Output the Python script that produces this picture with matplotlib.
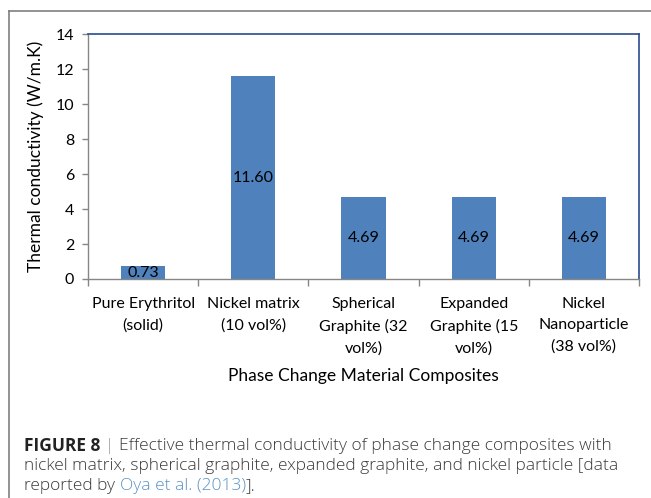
import numpy as np
import matplotlib
matplotlib.use("Agg")
import matplotlib.pyplot as plt
from matplotlib.lines import Line2D

categories = ["Pure Erythritol\n(solid)", "Nickel matrix\n(10 vol%)",
              "Spherical\nGraphite (32\nvol%)", "Expanded\nGraphite (15\nvol%)",
              "Nickel\nNanoparticle\n(38 vol%)"]
values = [0.73, 11.60, 4.69, 4.69, 4.69]
yticks = [0, 2, 4, 6, 8, 10, 12, 14]

BAR = "#4F81BD"
GRAY = "#868686"
NAVY = "#2B4C8C"
FONT = "Lato"

fig = plt.figure(figsize=(6.51, 4.98), dpi=100)

# outer frame (left + top lines)
fig.add_artist(Line2D([9/651, 9/651], [0, 1 - 11/498], transform=fig.transFigure,
                      color="#7f7f7f", lw=1.2))
fig.add_artist(Line2D([9/651, 1], [1 - 11/498, 1 - 11/498], transform=fig.transFigure,
                      color="#7f7f7f", lw=1.2))

ax = fig.add_axes([88/651, 1 - 279/498, (639 - 88)/651, (279 - 34)/498])
x = np.arange(len(categories))
ax.bar(x, values, width=0.4, color=BAR, zorder=2)
for i, v in enumerate(values):
    ax.text(i, v / 2, f"{v:.2f}", ha="center", va="center", fontsize=11.5,
            family=FONT, color="black", zorder=3)

ax.set_xlim(-0.5, len(categories) - 0.5)
ax.set_ylim(0, 14)
ax.set_yticks(yticks)
ax.set_yticklabels([str(t) for t in yticks], family=FONT, fontsize=11.5)
ax.set_xticks(np.arange(-0.5, len(categories), 1.0))
ax.set_xticklabels([])
ax.set_xticks(x, minor=True)
ax.set_xticklabels(categories, minor=True, family=FONT, fontsize=11.5,
                   linespacing=1.65, va="top")
ax.tick_params(axis="x", which="minor", length=0, pad=13)
ax.tick_params(axis="x", which="major", length=5, color=GRAY, width=1)
ax.tick_params(axis="y", length=4, color=GRAY, width=1, pad=6)

for s in ["left", "bottom"]:
    ax.spines[s].set_color(GRAY)
    ax.spines[s].set_linewidth(1)
for s in ["top", "right"]:
    ax.spines[s].set_color(NAVY)
    ax.spines[s].set_linewidth(1.2)

ax.set_ylabel("Thermal conductivity (W/m.K)", family=FONT, fontsize=12.5, labelpad=8)
ax.set_xlabel("Phase Change Material Composites", family=FONT, fontsize=12.5, labelpad=9)

# caption
cap = dict(family=["Open Sans", "Liberation Sans"], fontsize=12.5, color="#3a3a3a",
           weight="light")
fig.canvas.draw()
W = fig.bbox.width


def chain(parts, y):
    # place text pieces one after another on a line
    xpos = 24 / 651
    for s, kw in parts:
        t = fig.text(xpos, 1 - y / 498, s, va="center", **{**cap, **kw})
        fig.canvas.draw()
        xpos = t.get_window_extent().x1 / W


chain([("FIGURE 8 ", {"weight": "bold", "color": "#222222"}), ("| ", {"color": "#999999"}),
       ("Effective thermal conductivity of phase change composites with", {})], 446)
chain([("nickel matrix, spherical graphite, expanded graphite, and nickel particle [data", {})], 466)
chain([("reported by ", {}), ("Oya et al. (2013)", {"color": "#5B93C4"}), ("].", {})], 486)

fig.savefig("out.png", dpi=100)
